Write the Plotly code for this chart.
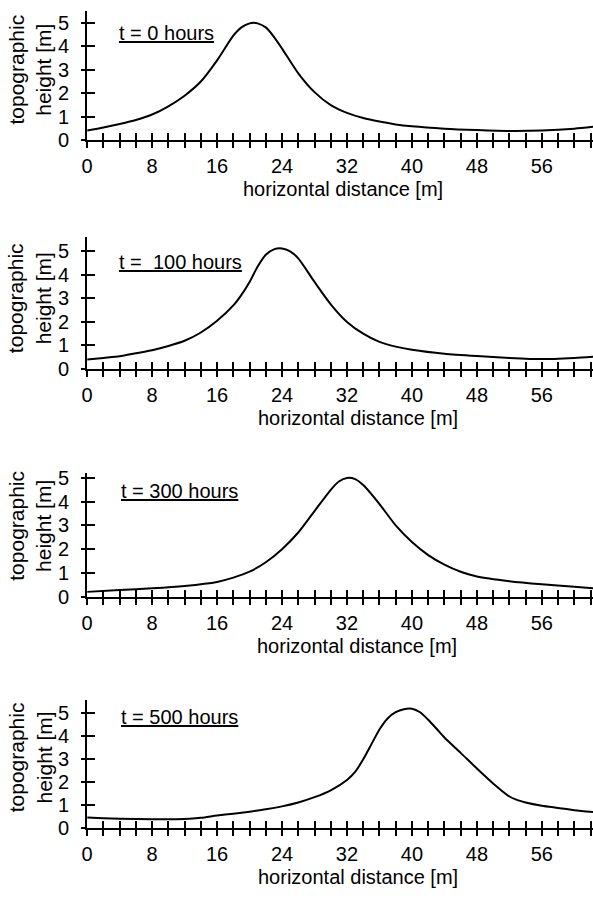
import plotly.graph_objects as go

# ---------------- data ----------------
x_t0 = [0, 2, 4, 6, 8, 10, 12, 14, 16, 18, 19, 20, 20.5, 21, 22, 23, 24, 26, 28, 30, 32, 34, 36, 38, 40, 44, 48, 52, 56, 60, 62.3]
h_t0 = [0.42, 0.55, 0.7, 0.87, 1.1, 1.45, 1.9, 2.5, 3.4, 4.45, 4.8, 4.97, 5.0, 4.97, 4.8, 4.4, 3.9, 2.85, 2.05, 1.5, 1.17, 0.95, 0.8, 0.68, 0.6, 0.5, 0.44, 0.4, 0.42, 0.5, 0.58]

x_t100 = [0, 2, 4, 6, 8, 10, 12, 14, 16, 18, 19, 20, 21, 22, 23, 24, 25, 26, 28, 30, 32, 34, 36, 38, 40, 44, 48, 52, 56, 60, 62.3]
h_t100 = [0.4, 0.47, 0.54, 0.67, 0.8, 0.98, 1.2, 1.55, 2.05, 2.7, 3.15, 3.7, 4.35, 4.85, 5.08, 5.12, 5.0, 4.7, 3.7, 2.75, 2.0, 1.5, 1.15, 0.95, 0.82, 0.65, 0.55, 0.47, 0.42, 0.47, 0.52]

x_t300 = [0, 4, 8, 12, 16, 18, 20, 22, 24, 26, 28, 30, 31, 32, 33, 34, 36, 38, 40, 42, 44, 46, 48, 52, 56, 60, 62.3]
h_t300 = [0.2, 0.28, 0.35, 0.45, 0.62, 0.8, 1.05, 1.45, 2.0, 2.7, 3.6, 4.5, 4.85, 5.0, 4.95, 4.7, 3.9, 3.0, 2.3, 1.75, 1.35, 1.05, 0.85, 0.65, 0.52, 0.42, 0.35]

x_t500 = [0, 2, 4, 8, 12, 14, 16, 18, 20, 22, 24, 26, 28, 30, 32, 33, 34, 35, 36, 37, 38, 39, 40, 41, 42, 43, 44, 46, 48, 50, 52, 53, 54, 56, 58, 60, 62.3]
h_t500 = [0.46, 0.43, 0.41, 0.39, 0.4, 0.45, 0.55, 0.63, 0.72, 0.82, 0.95, 1.12, 1.35, 1.65, 2.1, 2.45, 3.0, 3.65, 4.3, 4.78, 5.05, 5.18, 5.2, 5.05, 4.72, 4.34, 3.95, 3.28, 2.6, 1.95, 1.38, 1.22, 1.12, 0.98, 0.88, 0.78, 0.7]

panel_labels = ["t = 0 hours", "t =\u00a0\u00a0100 hours", "t = 300 hours", "t = 500 hours"]

x_tick_vals = list(range(0, 63, 2))
x_tick_text = [str(v) if v % 8 == 0 and v <= 56 else "" for v in x_tick_vals]
y_tick_vals = [0, 1, 2, 3, 4, 5]

x_title = "horizontal distance [m]"
y_title = "topographic<br>height [m]"

# ---------------- layout geometry (pixels) ----------------
W, H = 593, 900
X_LEFT = 82
X_MAX = 62.3
# (pixel of y=0, pixels per unit, top of range in data units)
geom = [(137, 24.0, 5.5), (370, 24.0, 5.6), (602, 24.2, 5.2), (838, 23.4, 5.6)]
label_pos = [(112, 28), (112, 261), (114, 494), (114, 725)]
xtitle_cx = [340, 356, 355, 356]

FONT = "Liberation Sans, Arial, Helvetica, sans-serif"
series = [(x_t0, h_t0), (x_t100, h_t100), (x_t300, h_t300), (x_t500, h_t500)]

fig = go.Figure()
layout = dict(
    width=W, height=H,
    margin=dict(l=0, r=0, t=0, b=0),
    paper_bgcolor="white", plot_bgcolor="white",
    showlegend=False,
    font=dict(family=FONT, size=20, color="black"),
    annotations=[],
)

for i, ((xs, ys), (y0px, ppu, top)) in enumerate(zip(series, geom)):
    k = i + 1
    ko = i + 5
    toppx = y0px - top * ppu
    ydom = [1 - y0px / H, 1 - toppx / H]
    xdom = [X_LEFT / W, 1.0]

    fig.add_trace(go.Scatter(
        x=xs, y=ys, mode="lines", line=dict(color="black", width=2, shape="spline", smoothing=0.7),
        xaxis=f"x{k}", yaxis=f"y{k}", hoverinfo="skip"))
    fig.add_trace(go.Scatter(
        x=[], y=[], mode="lines", xaxis=f"x{ko}", yaxis=f"y{ko}", hoverinfo="skip"))

    layout[f"xaxis{k}"] = dict(
        domain=xdom, range=[0, X_MAX], anchor=f"y{k}",
        showline=True, linecolor="black", linewidth=2,
        ticks="outside", ticklen=6, tickwidth=2, tickcolor="black",
        tickmode="array", tickvals=x_tick_vals, ticktext=x_tick_text,
        tickfont=dict(size=20), ticklabelstandoff=1,
        showgrid=False, zeroline=False, fixedrange=True)
    layout[f"yaxis{k}"] = dict(
        domain=ydom, range=[0, top], anchor=f"x{k}",
        showline=True, linecolor="black", linewidth=2,
        ticks="outside", ticklen=4, tickwidth=2, tickcolor="black",
        tickmode="array", tickvals=y_tick_vals,
        tickfont=dict(size=20), ticklabelstandoff=8,
        showgrid=False, zeroline=False, fixedrange=True)
    layout[f"xaxis{ko}"] = dict(
        overlaying=f"x{k}", anchor=f"y{ko}", range=[0, X_MAX],
        showline=False, ticks="inside", ticklen=7, tickwidth=2, tickcolor="black",
        tickmode="array", tickvals=x_tick_vals, showticklabels=False,
        showgrid=False, zeroline=False, fixedrange=True)
    layout[f"yaxis{ko}"] = dict(
        overlaying=f"y{k}", anchor=f"x{ko}", range=[0, top],
        showline=False, ticks="inside", ticklen=8, tickwidth=2, tickcolor="black",
        tickmode="array", tickvals=y_tick_vals, showticklabels=False,
        showgrid=False, zeroline=False, fixedrange=True)

    # panel label (underlined)
    lx, ly = label_pos[i]
    layout["annotations"].append(dict(
        text=panel_labels[i], xref="paper", yref="paper",
        x=lx / W, y=1 - ly / H, xanchor="left", yanchor="middle",
        showarrow=False, font=dict(size=20, lineposition="under")))
    # x-axis title
    layout["annotations"].append(dict(
        text=x_title, xref="paper", yref="paper",
        x=xtitle_cx[i] / W, y=1 - (y0px + 50) / H, xanchor="center", yanchor="middle",
        showarrow=False, font=dict(size=20)))
    # y-axis title
    layout["annotations"].append(dict(
        text=y_title, xref="paper", yref="paper",
        x=24 / W, y=1 - (y0px - 72) / H, xanchor="center", yanchor="middle",
        textangle=-90, showarrow=False, font=dict(size=21)))

fig.update_layout(**layout)
fig.write_html("out.html")
